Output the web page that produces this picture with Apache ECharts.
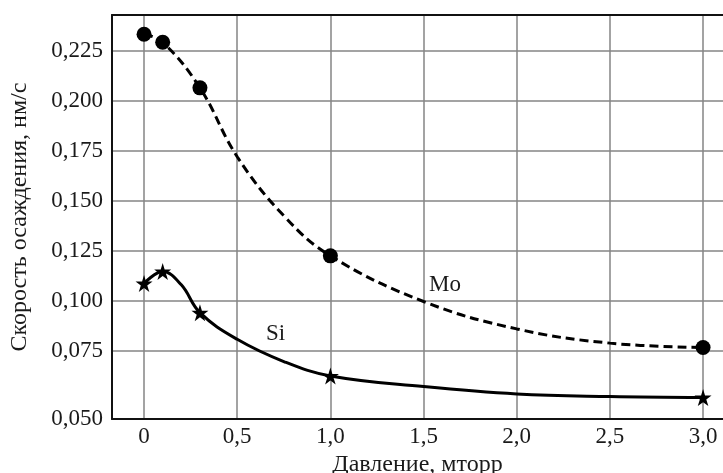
<!DOCTYPE html>
<html>
<head>
<meta charset="utf-8">
<script src="https://cdn.jsdelivr.net/npm/echarts@6/dist/echarts.min.js"></script>
<style>
  html, body { margin: 0; padding: 0; background: #fff; }
  #chart { width: 723px; height: 473px; }
</style>
</head>
<body>
<div id="chart"></div>
<script>
// Measured points (pressure, mtorr -> deposition rate, nm/s)
const moX = [0, 0.1, 0.3, 1.0, 3.0];
const moY = [0.2332, 0.2292, 0.2064, 0.1225, 0.0767];
const siX = [0, 0.1, 0.3, 1.0, 3.0];
const siY = [0.1087, 0.1147, 0.0941, 0.0625, 0.0517];

// Fitted trend curves through the measurements
const moCurveX = [0, 0.1, 0.3, 0.5, 0.75, 1.0, 1.5, 2.0, 2.5, 3.0];
const moCurveY = [0.2332, 0.2292, 0.2064, 0.1720, 0.1425, 0.1225, 0.0997, 0.0860, 0.0789, 0.0767];
const siCurveX = [0, 0.1, 0.2, 0.3, 0.5, 0.75, 1.0, 1.5, 2.0, 2.5, 3.0];
const siCurveY = [0.1087, 0.1147, 0.1080, 0.0941, 0.0808, 0.0697, 0.0625, 0.0572, 0.0535, 0.0522, 0.0517];

// Axis ticks
const xTickValues = [0, 0.5, 1.0, 1.5, 2.0, 2.5, 3.0];
const xTickLabels = ['0', '0,5', '1,0', '1,5', '2,0', '2,5', '3,0'];
const yTickValues = [0.041, 0.075, 0.100, 0.125, 0.150, 0.175, 0.200, 0.225];
const yTickLabels = ['0,050', '0,075', '0,100', '0,125', '0,150', '0,175', '0,200', '0,225'];

const FONT = '"Liberation Serif", "DejaVu Serif", serif';
const TEXT = '#1a1a1a';
const GRID_COLOR = '#858585';
const STAR = 'path://M0,-10 L2.2,-3.1 L9.5,-3.1 L3.6,1.2 L5.9,8.1 L0,3.9 L-5.9,8.1 L-3.6,1.2 L-9.5,-3.1 L-2.2,-3.1 Z';

const zip = (xs, ys) => xs.map((x, i) => [x, ys[i]]);
const labelFor = (vals, labels) => v => {
  const i = vals.findIndex(t => Math.abs(t - v) < 1e-6);
  return i >= 0 ? labels[i] : '';
};

const chart = echarts.init(document.getElementById('chart'), null, { renderer: 'canvas' });

chart.setOption({
  animation: false,
  backgroundColor: '#ffffff',
  grid: { left: 112, top: 15, right: 0, bottom: 54, containLabel: false, outerBoundsMode: 'none' },
  xAxis: [{
    type: 'value',
    min: -0.172,
    max: 3.107,
    name: 'Давление, мторр',
    nameLocation: 'middle',
    nameGap: 29,
    nameTextStyle: { fontFamily: FONT, fontSize: 24, color: TEXT },
    axisLine: { show: true, onZero: false, lineStyle: { color: '#111', width: 2 } },
    axisTick: { show: false, customValues: xTickValues },
    axisLabel: {
      customValues: xTickValues,
      formatter: labelFor(xTickValues, xTickLabels),
      fontFamily: FONT, fontSize: 23, color: TEXT, margin: 6
    },
    splitLine: { show: true, lineStyle: { color: GRID_COLOR, width: 1.5 } }
  }, {
    type: 'value',
    position: 'top',
    min: -0.172,
    max: 3.107,
    axisLine: { show: true, onZero: false, lineStyle: { color: '#111', width: 2 } },
    axisTick: { show: false },
    axisLabel: { show: false },
    splitLine: { show: false }
  }],
  yAxis: {
    type: 'value',
    min: 0.041,
    max: 0.2428,
    name: 'Скорость осаждения, нм/с',
    nameLocation: 'middle',
    nameGap: 80,
    nameRotate: 90,
    nameTextStyle: { fontFamily: FONT, fontSize: 24, color: TEXT },
    axisLine: { show: true, onZero: false, lineStyle: { color: '#111', width: 2 } },
    axisTick: { show: false, customValues: yTickValues },
    axisLabel: {
      customValues: yTickValues,
      formatter: labelFor(yTickValues, yTickLabels),
      fontFamily: FONT, fontSize: 23, color: TEXT, margin: 9
    },
    splitLine: { show: true, lineStyle: { color: GRID_COLOR, width: 1.5 } }
  },
  series: [
    {
      name: 'Mo curve', type: 'line', data: zip(moCurveX, moCurveY),
      smooth: 0.4, showSymbol: false, silent: true,
      lineStyle: { color: '#000', width: 3, type: [9, 5] }, z: 3
    },
    {
      name: 'Si curve', type: 'line', data: zip(siCurveX, siCurveY),
      smooth: 0.4, showSymbol: false, silent: true,
      lineStyle: { color: '#000', width: 3 }, z: 3
    },
    {
      name: 'Mo', type: 'scatter', data: zip(moX, moY),
      symbol: 'circle', symbolSize: 15,
      itemStyle: { color: '#000', opacity: 1 }, z: 5
    },
    {
      name: 'Si', type: 'scatter', data: zip(siX, siY),
      symbol: STAR, symbolSize: 17,
      itemStyle: { color: '#000', opacity: 1 }, z: 5
    }
  ],
  graphic: [
    { type: 'text', left: 429, top: 273, style: { text: 'Mo', font: '23px ' + FONT, fill: TEXT } },
    { type: 'text', left: 266, top: 322, style: { text: 'Si', font: '23px ' + FONT, fill: TEXT } }
  ]
});
</script>
</body>
</html>
